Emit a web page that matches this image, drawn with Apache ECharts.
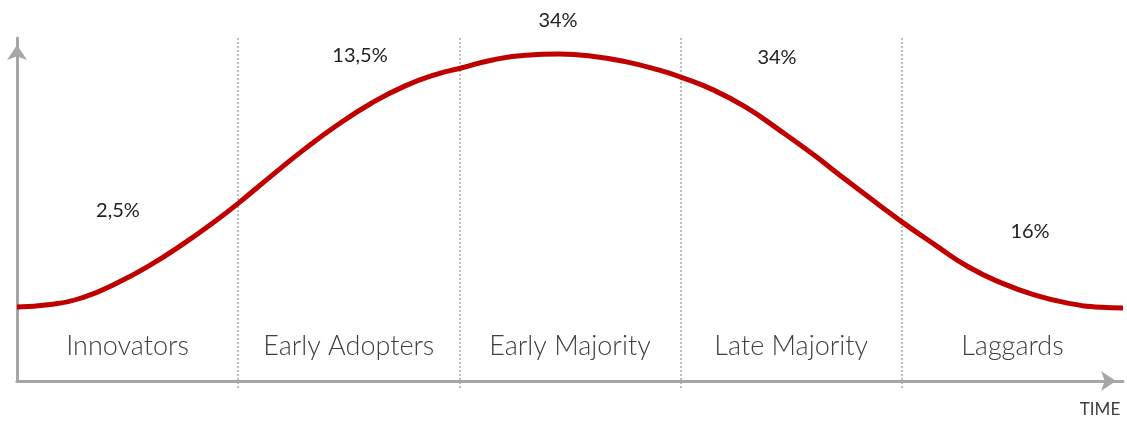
<!DOCTYPE html>
<html>
<head>
<meta charset="utf-8">
<title>Diffusion of innovations</title>
<script src="https://cdn.jsdelivr.net/npm/echarts@6/dist/echarts.min.js"></script>
<style>
  html, body { margin: 0; padding: 0; background: #fff; }
  #chart { width: 1127px; height: 421px; }
</style>
</head>
<body>
<div id="chart"></div>
<script>
// adopter groups, one segment each along the time axis
var groups = ['Innovators', 'Early Adopters', 'Early Majority', 'Late Majority', 'Laggards'];
var shares = ['2,5%', '13,5%', '34%', '34%', '16%'];

// curve: time in segment units (0..5), height 0..100
var time = [0, 0.15, 0.30, 0.45, 0.60, 0.75, 0.90, 1.00, 1.15, 1.30, 1.45, 1.60, 1.75, 1.90, 2.00,
            2.15, 2.30, 2.45, 2.60, 2.75, 2.90, 3.00, 3.15, 3.30, 3.45, 3.60, 3.75, 3.90, 4.00, 4.15, 4.30,
            4.45, 4.60, 4.75, 4.90, 5.00];
var adoption = [21.6, 22.3, 24.4, 28.5, 33.7, 39.9, 46.8, 51.8, 59.8, 67.6, 74.7, 80.9, 85.9, 89.5, 91.1,
                93.6, 95.0, 95.3, 94.7, 93.1, 90.7, 88.6, 84.8, 79.6, 73.0, 66.0, 58.5, 51.2, 46.4, 39.7, 33.3,
                28.6, 25.1, 22.7, 21.5, 21.3];

var curve = [];
for (var i = 0; i < time.length; i++) {
    curve.push([time[i], adoption[i]]);
}

var chart = echarts.init(document.getElementById('chart'));
var axisGrey = '#a6a6a6';
var font = 'Lato, "Open Sans", sans-serif';

var option = {
    animation: false,
    grid: [
        { left: 17, right: 4, top: 38, bottom: 40, outerBoundsMode: 'none' },
        { left: 17, right: 4, top: 38, bottom: 33, outerBoundsMode: 'none' }
    ],
    xAxis: [
        {
            type: 'value', gridIndex: 0, min: 0, max: 5,
            axisLine: { show: true, symbol: ['none', 'arrow'], symbolSize: [15, 15], symbolOffset: [0, -7],
                        lineStyle: { color: axisGrey, width: 3 } },
            axisTick: { show: false }, axisLabel: { show: false }, splitLine: { show: false }
        },
        {
            type: 'category', gridIndex: 1, data: groups, boundaryGap: true,
            axisLine: { show: false }, axisTick: { show: false, interval: 0 },
            axisLabel: { inside: true, interval: 0, margin: 42, verticalAlign: 'middle', color: '#404040',
                         fontFamily: font, fontWeight: 300, fontSize: 27, hideOverlap: false },
            splitLine: { show: true, interval: 0, showMinLine: false, showMaxLine: false,
                         lineStyle: { color: '#a8a8a8', width: 1.5, type: [2, 2] } }
        }
    ],
    yAxis: [
        {
            type: 'value', gridIndex: 0, min: 0, max: 100,
            axisLine: { show: true, symbol: ['none', 'arrow'], symbolSize: [15, 15], symbolOffset: [0, -7],
                        lineStyle: { color: axisGrey, width: 3 } },
            axisTick: { show: false }, axisLabel: { show: false }, splitLine: { show: false }
        },
        { type: 'value', gridIndex: 1, min: 0, max: 100, show: false }
    ],
    graphic: [
        { type: 'text', x: 118, y: 211, style: { text: shares[0], font: '20px ' + font, fill: '#222', align: 'center', verticalAlign: 'middle' } },
        { type: 'text', x: 360, y: 56, style: { text: shares[1], font: '20px ' + font, fill: '#222', align: 'center', verticalAlign: 'middle' } },
        { type: 'text', x: 558, y: 21, style: { text: shares[2], font: '20px ' + font, fill: '#222', align: 'center', verticalAlign: 'middle' } },
        { type: 'text', x: 777, y: 58, style: { text: shares[3], font: '20px ' + font, fill: '#222', align: 'center', verticalAlign: 'middle' } },
        { type: 'text', x: 1030, y: 232, style: { text: shares[4], font: '20px ' + font, fill: '#222', align: 'center', verticalAlign: 'middle' } },
        { type: 'text', x: 1100, y: 410, style: { text: 'TIME', font: '17px ' + font, fill: '#404040', align: 'center', verticalAlign: 'middle' } }
    ],
    series: [
        {
            type: 'line',
            xAxisIndex: 0, yAxisIndex: 0,
            data: curve,
            smooth: 0.5,
            showSymbol: false,
            lineStyle: { color: '#c00000', width: 5 },
            z: 5
        }
    ]
};

chart.setOption(option);
window.addEventListener('resize', chart.resize);
</script>
</body>
</html>
